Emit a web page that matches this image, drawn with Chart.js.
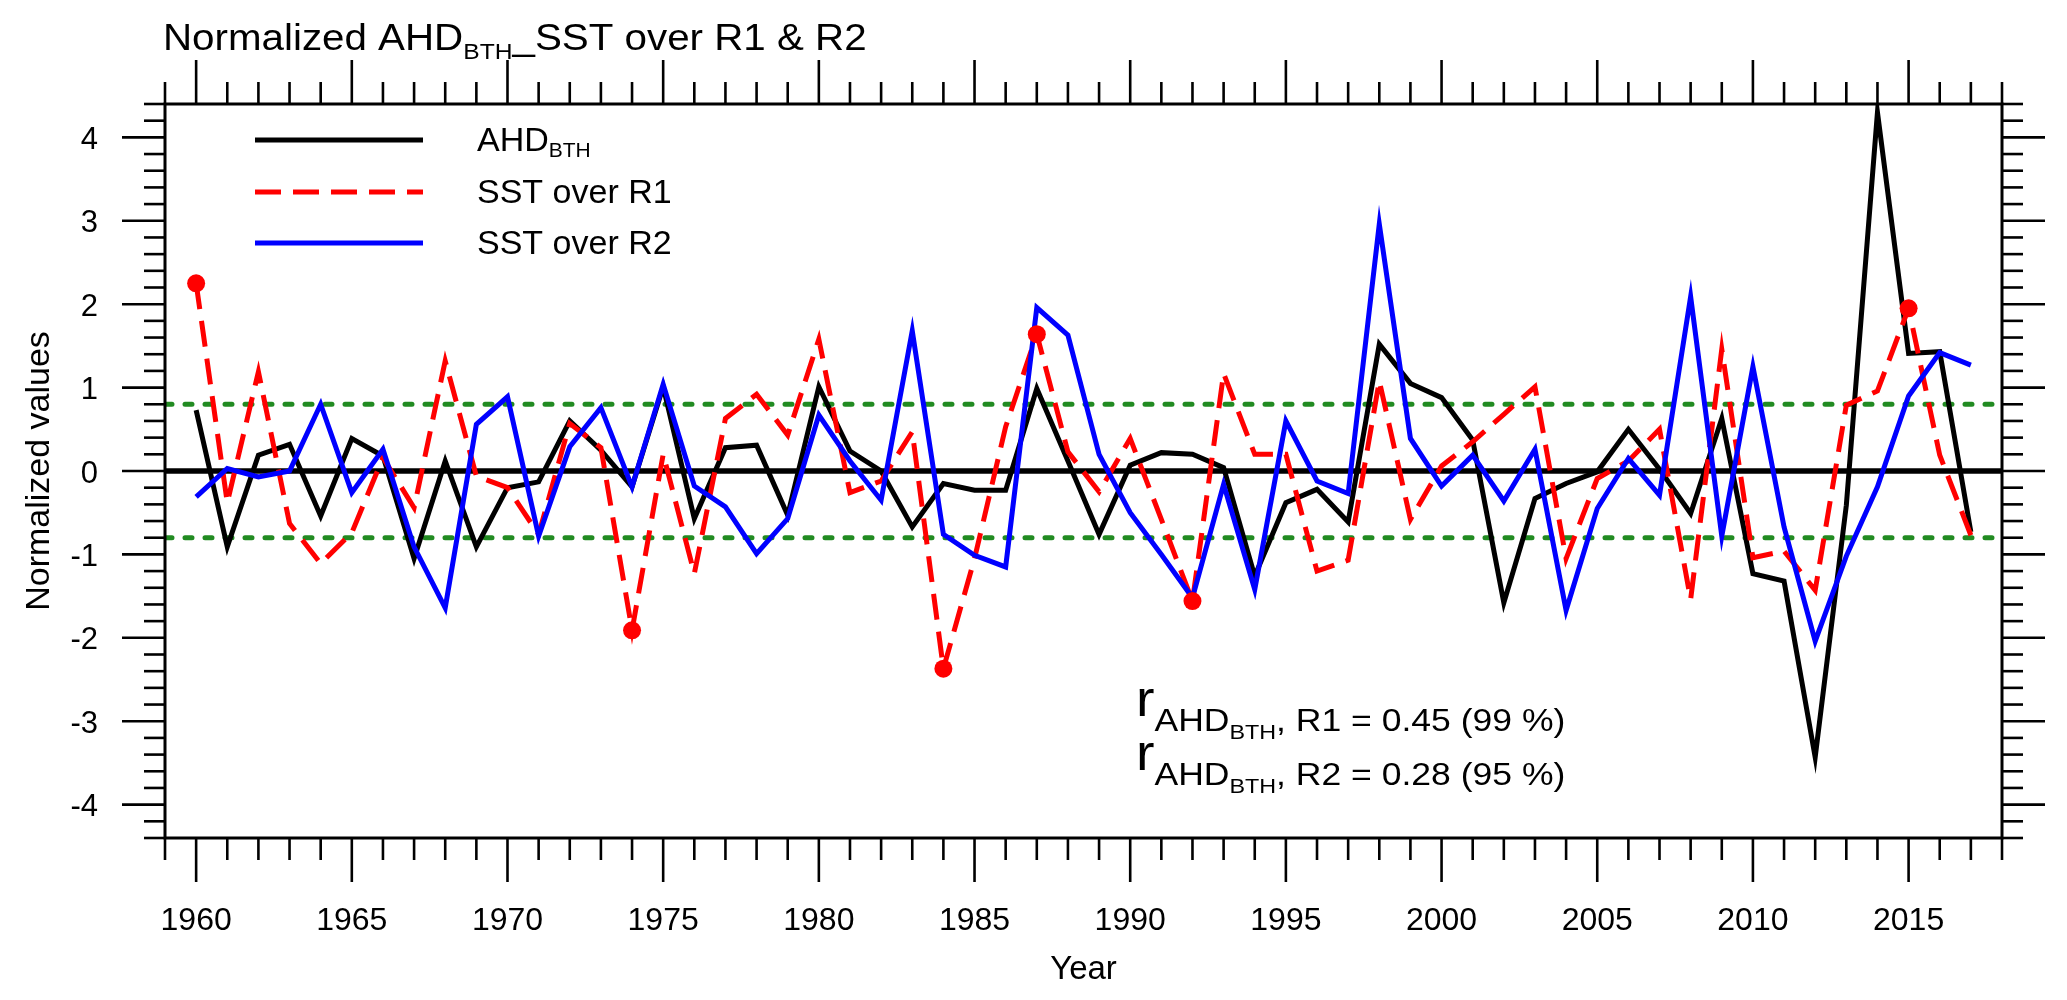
<!DOCTYPE html>
<html>
<head>
<meta charset="utf-8">
<style>
  html, body { margin: 0; padding: 0; background: #fff; }
  #wrap { width: 2067px; height: 1000px; }
</style>
</head>
<body>
<div id="wrap"><canvas id="chartAHD" width="2067" height="1000"></canvas></div>
<script src="https://cdn.jsdelivr.net/npm/chart.js@4.4.1/dist/chart.umd.min.js"></script>
<script>
// years on the x axis
const years = [1960, 1961, 1962, 1963, 1964, 1965, 1966, 1967, 1968, 1969,
               1970, 1971, 1972, 1973, 1974, 1975, 1976, 1977, 1978, 1979,
               1980, 1981, 1982, 1983, 1984, 1985, 1986, 1987, 1988, 1989,
               1990, 1991, 1992, 1993, 1994, 1995, 1996, 1997, 1998, 1999,
               2000, 2001, 2002, 2003, 2004, 2005, 2006, 2007, 2008, 2009,
               2010, 2011, 2012, 2013, 2014, 2015, 2016, 2017];

// normalized AHD over BTH (black)
const ahd = [0.73, -0.91, 0.19, 0.32, -0.54, 0.39, 0.18, -1.05, 0.12, -0.91,
             -0.20, -0.13, 0.60, 0.25, -0.19, 1.01, -0.57, 0.28, 0.31, -0.53,
             1.01, 0.24, 0.00, -0.67, -0.15, -0.23, -0.23, 0.99, 0.12, -0.76,
             0.07, 0.22, 0.20, 0.04, -1.26, -0.38, -0.22, -0.61, 1.52, 1.05,
             0.88, 0.37, -1.58, -0.33, -0.15, -0.01, 0.50, 0.02, -0.51, 0.63,
             -1.23, -1.32, -3.43, -0.41, 4.30, 1.41, 1.43, -0.73];

// SST over R1 (red dashed)
const sstR1 = [2.25, -0.38, 1.19, -0.63, -1.11, -0.74, 0.16, -0.44, 1.32, -0.06,
               -0.20, -0.76, 0.57, 0.28, -1.91, 0.20, -1.23, 0.63, 0.92, 0.43,
               1.58, -0.26, -0.12, 0.47, -2.37, -1.05, 0.53, 1.64, 0.23, -0.25,
               0.39, -0.58, -1.56, 1.17, 0.20, 0.20, -1.20, -1.07, 1.08, -0.58,
               0.06, 0.35, 0.68, 1.01, -1.05, -0.09, 0.12, 0.50, -1.54, 1.46,
               -1.04, -0.96, -1.43, 0.79, 0.96, 1.95, 0.19, -0.77];

// SST over R2 (blue)
const sstR2 = [-0.31, 0.03, -0.07, 0.00, 0.80, -0.26, 0.26, -0.91, -1.64, 0.56,
               0.89, -0.78, 0.29, 0.76, -0.19, 1.04, -0.18, -0.43, -0.99, -0.57,
               0.67, 0.12, -0.35, 1.68, -0.76, -1.01, -1.15, 1.96, 1.63, 0.20,
               -0.50, -1.00, -1.52, -0.16, -1.42, 0.60, -0.12, -0.27, 2.96, 0.39,
               -0.18, 0.19, -0.36, 0.26, -1.67, -0.45, 0.15, -0.29, 2.09, -0.78,
               1.25, -0.67, -2.04, -1.02, -0.19, 0.90, 1.42, 1.27];

// years marked with a dot on the R1 curve
const markedYears = [1960, 1974, 1984, 1987, 1992, 2015];

// reference lines
const refZero = 0;
const refBand = [0.8, -0.8];

// axes
const xMin = 1959, xMax = 2018;
const yMin = -4.4, yMax = 4.4;
const xTickValues = [1960, 1965, 1970, 1975, 1980, 1985, 1990, 1995, 2000, 2005, 2010, 2015];
const xTickLabels = ['1960', '1965', '1970', '1975', '1980', '1985', '1990', '1995', '2000', '2005', '2010', '2015'];
const yTickValues = [-4, -3, -2, -1, 0, 1, 2, 3, 4];
const yTickLabels = ['-4', '-3', '-2', '-1', '0', '1', '2', '3', '4'];

const seriesNames = ['AHD', 'SST over R1', 'SST over R2'];
const corrText = [', R1 = 0.45 (99 %)', ', R2 = 0.28 (95 %)'];

const FONT = '"Liberation Sans", Arial, Helvetica, sans-serif';
function font(size) { return size + 'px ' + FONT; }

// draw pieces of text [text, size, dy] one after another, stretched by sx
function drawRuns(ctx, runs, x, y, sx) {
    ctx.save();
    ctx.translate(x, y);
    ctx.scale(sx, 1);
    let cx = 0;
    runs.forEach(([t, size, dy]) => {
        ctx.font = font(size);
        ctx.fillText(t, cx, dy || 0);
        cx += ctx.measureText(t).width;
    });
    ctx.restore();
}

function seg(ctx, x1, y1, x2, y2) {
    ctx.beginPath();
    ctx.moveTo(x1, y1);
    ctx.lineTo(x2, y2);
    ctx.stroke();
}

const toXY = vals => years.map((yr, i) => ({ x: yr, y: vals[i] }));
const flat = v => [{ x: xMin, y: v }, { x: xMax, y: v }];

// frame, ticks, labels, legend and text, NCL style
const nclFrame = {
    id: 'nclFrame',
    afterDraw(chart) {
        const ctx = chart.ctx;
        const xs = chart.scales.x, ys = chart.scales.y;
        const { left, right, top, bottom } = chart.chartArea;
        ctx.save();
        ctx.strokeStyle = '#000';
        ctx.fillStyle = '#000';
        ctx.lineCap = 'butt';
        ctx.lineWidth = 3;
        ctx.strokeRect(left, top, right - left, bottom - top);

        // x ticks, every year, longer every 5
        ctx.lineWidth = 2.6;
        for (let yr = xMin; yr <= xMax; yr++) {
            const px = xs.getPixelForValue(yr);
            const len = xTickValues.includes(yr) ? 44 : 22;
            seg(ctx, px, bottom, px, bottom + len);
            seg(ctx, px, top, px, top - len);
        }
        // y ticks, every 0.2, longer every 1
        for (let k = -22; k <= 22; k++) {
            const py = ys.getPixelForValue(k / 5);
            const len = (k % 5 === 0) ? 43 : 21;
            seg(ctx, left - len, py, left, py);
            seg(ctx, right, py, right + len, py);
        }

        // tick labels
        ctx.font = font(32);
        ctx.textAlign = 'center';
        ctx.textBaseline = 'alphabetic';
        xTickValues.forEach((v, i) => {
            ctx.fillText(xTickLabels[i], xs.getPixelForValue(v), bottom + 92);
        });
        ctx.font = font(31);
        ctx.textAlign = 'right';
        ctx.textBaseline = 'middle';
        yTickValues.forEach((v, i) => {
            ctx.fillText(yTickLabels[i], left - 67, ys.getPixelForValue(v) + 3);
        });

        // axis titles
        ctx.textAlign = 'center';
        ctx.textBaseline = 'middle';
        ctx.font = font(33);
        ctx.fillText('Year', (left + right) / 2, 970);
        ctx.save();
        ctx.translate(40, (top + bottom) / 2);
        ctx.rotate(-Math.PI / 2);
        ctx.font = font(34);
        ctx.fillText('Normalized values', 0, 0);
        ctx.restore();

        // main title
        ctx.textAlign = 'left';
        ctx.textBaseline = 'alphabetic';
        drawRuns(ctx, [['Normalized AHD', 36, 0], ['BTH', 22, 9], ['_SST over R1 & R2', 36, 0]], 163, 50, 1.12);

        // legend
        const legY = [140, 192, 243];
        const ds = chart.data.datasets;
        for (let i = 0; i < 3; i++) {
            ctx.save();
            ctx.strokeStyle = ds[i].borderColor;
            ctx.lineWidth = 5;
            ctx.setLineDash(ds[i].borderDash || []);
            seg(ctx, 255, legY[i], 423, legY[i]);
            ctx.restore();
        }
        drawRuns(ctx, [[seriesNames[0], 34, 0], ['BTH', 21, 6]], 477, legY[0] + 11, 1);
        drawRuns(ctx, [[seriesNames[1], 34, 0]], 477, legY[1] + 11, 1);
        drawRuns(ctx, [[seriesNames[2], 34, 0]], 477, legY[2] + 11, 1);

        // correlation text
        drawRuns(ctx, [['r', 50, 0], ['AHD', 32, 15], ['BTH', 21, 23], [corrText[0], 32, 15]], 1136, 716, 1.11);
        drawRuns(ctx, [['r', 50, 0], ['AHD', 32, 15], ['BTH', 21, 23], [corrText[1], 32, 15]], 1136, 770, 1.11);
        ctx.restore();
    }
};

const chartAHD = new Chart(document.getElementById('chartAHD'), {
    type: 'line',
    data: {
        datasets: [
            {
                label: seriesNames[0],
                data: toXY(ahd),
                borderColor: '#000000',
                borderWidth: 5,
                pointRadius: 0,
                order: 3
            },
            {
                label: seriesNames[1],
                data: toXY(sstR1),
                borderColor: '#FF0000',
                borderWidth: 5,
                borderDash: [26, 12],
                pointRadius: 0,
                order: 2
            },
            {
                label: seriesNames[2],
                data: toXY(sstR2),
                borderColor: '#0000FF',
                borderWidth: 5,
                pointRadius: 0,
                order: 1
            },
            {
                // dots on the R1 curve
                type: 'scatter',
                label: 'marks',
                data: markedYears.map(yr => ({ x: yr, y: sstR1[years.indexOf(yr)] })),
                backgroundColor: '#FF0000',
                borderWidth: 0,
                pointRadius: 9,
                order: 0
            },
            {
                label: 'zero',
                data: flat(refZero),
                borderColor: '#000000',
                borderWidth: 5.5,
                pointRadius: 0,
                order: 5
            },
            {
                label: 'upper',
                data: flat(refBand[0]),
                borderColor: '#228B22',
                borderWidth: 5,
                borderDash: [7, 13],
                borderCapStyle: 'round',
                pointRadius: 0,
                order: 4
            },
            {
                label: 'lower',
                data: flat(refBand[1]),
                borderColor: '#228B22',
                borderWidth: 5,
                borderDash: [7, 13],
                borderCapStyle: 'round',
                pointRadius: 0,
                order: 4
            }
        ]
    },
    options: {
        responsive: false,
        animation: false,
        devicePixelRatio: 1,
        layout: {
            padding: { left: 165, right: 65, top: 104, bottom: 162 }
        },
        plugins: {
            legend: { display: false },
            tooltip: { enabled: false },
            title: { display: false }
        },
        elements: {
            line: { tension: 0, borderCapStyle: 'butt', borderJoinStyle: 'miter' }
        },
        scales: {
            x: { type: 'linear', min: xMin, max: xMax, display: false },
            y: { type: 'linear', min: yMin, max: yMax, display: false }
        }
    },
    plugins: [nclFrame]
});
</script>
</body>
</html>
